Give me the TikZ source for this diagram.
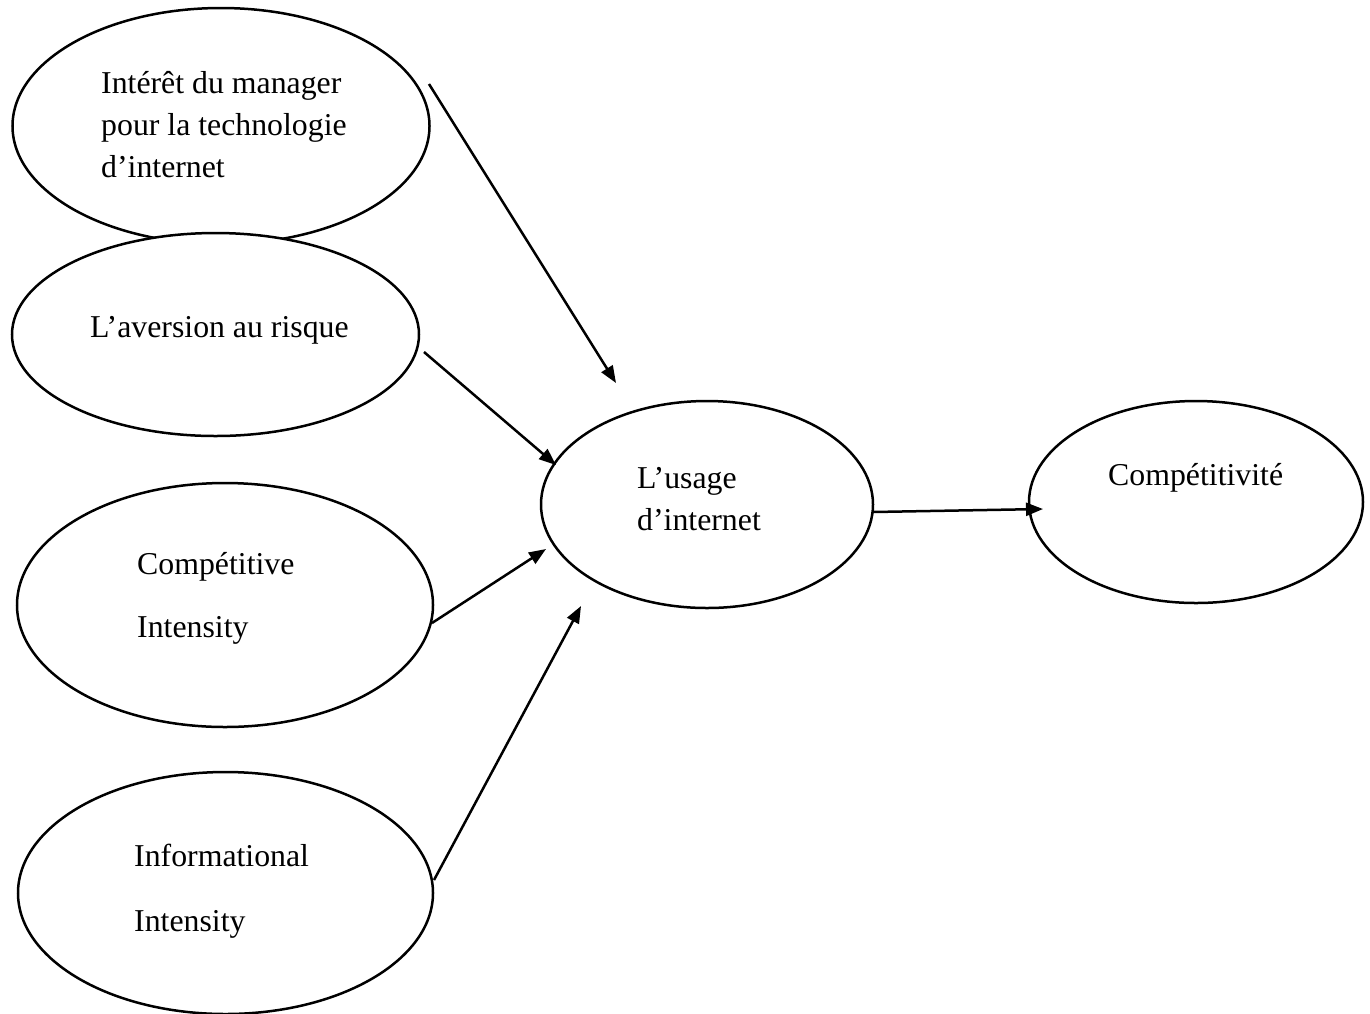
\documentclass[tikz,border=0pt]{standalone}
\usepackage{fontspec}
\setmainfont{Liberation Serif}
\usetikzlibrary{shapes.geometric,arrows.meta}

\tikzset{
  oval/.style={draw=black, fill=white, ellipse, line width=2.5pt, inner sep=0pt},
  lbl/.style={anchor=base west, inner sep=0pt, font=\fontsize{31.8}{42}\selectfont},
  link/.style={draw=black, line width=2.5pt, -{Triangle[length=17pt,width=13pt]}}
}

\begin{document}
\begin{tikzpicture}[x=1pt,y=-1pt]
  \useasboundingbox (0,0) rectangle (1370,1013);
  \clip (0,0) rectangle (1370,1013);

  % ovals (the second one covers the lower edge of the first)
  \node[oval, minimum width=417pt, minimum height=236pt] (interet) at (221,126) {};
  \node[oval, minimum width=407pt, minimum height=203pt] (aversion) at (215.5,334.5) {};
  \node[oval, minimum width=416pt, minimum height=244pt] (compint) at (225,605) {};
  \node[oval, minimum width=415pt, minimum height=242pt] (infoint) at (225.5,893) {};
  \node[oval, minimum width=332pt, minimum height=207pt] (usage) at (707,504.5) {};
  \node[oval, minimum width=334pt, minimum height=202pt] (compet) at (1196,502) {};

  % texts
  \node[lbl] (t1a) at (101,93) {Intérêt du manager};
  \node[lbl] (t1b) at (101,135) {pour la technologie};
  \node[lbl] (t1c) at (101,177) {d’internet};
  \node[lbl] (t2) at (90,337) {L’aversion au risque};
  \node[lbl] (t3a) at (137,574) {Compétitive};
  \node[lbl] (t3b) at (137,637) {Intensity};
  \node[lbl] (t4a) at (134,866) {Informational};
  \node[lbl] (t4b) at (134,931) {Intensity};
  \node[lbl] (t5a) at (637,488) {L’usage};
  \node[lbl] (t5b) at (637,530) {d’internet};
  \node[lbl] (t6) at (1108,485) {Compétitivité};

  % connector ends
  \coordinate (s1) at (429,84);
  \coordinate (e1) at (616,383);
  \coordinate (s2) at (424,352);
  \coordinate (e2) at (556,465);
  \coordinate (s3) at (432,623);
  \coordinate (e3) at (546,549);
  \coordinate (s4) at (434,880);
  \coordinate (e4) at (581,606);
  \coordinate (s5) at (873,512);
  \coordinate (e5) at (1043,509);

  % arrows
  \draw[link] (s1) -- (e1);
  \draw[link] (s2) -- (e2);
  \draw[link] (s3) -- (e3);
  \draw[link] (s4) -- (e4);
  \draw[link] (s5) -- (e5);
\end{tikzpicture}
\end{document}
